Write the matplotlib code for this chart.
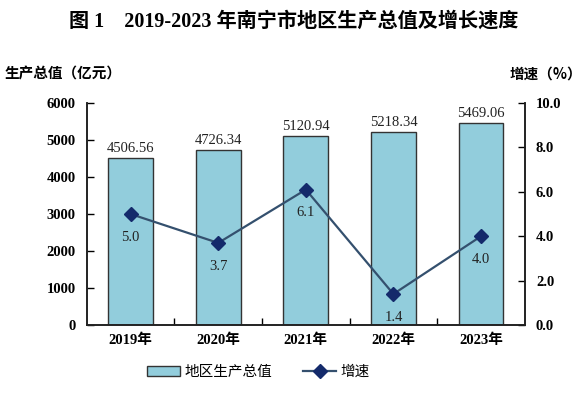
import matplotlib
matplotlib.use("Agg")
import matplotlib.pyplot as plt
from matplotlib.ticker import FixedLocator

# Data
years = ["2019年", "2020年", "2021年", "2022年", "2023年"]
gdp = [4506.56, 4726.34, 5120.94, 5218.34, 5469.06]
growth = [5.0, 3.7, 6.1, 1.4, 4.0]

num_font = ["Liberation Serif", "Noto Sans CJK SC"]
cjk_font = ["Noto Sans CJK SC", "DejaVu Sans"]

bar_color = "#92cddc"
line_color = "#34506e"
marker_color = "#142a6b"

fig = plt.figure(figsize=(5.87, 3.96), dpi=100)
ax = fig.add_axes([0.148, 0.179, 0.746, 0.561])
ax2 = ax.twinx()

x = list(range(len(years)))

# Bars
ax.bar(x, gdp, width=0.51, color=bar_color, edgecolor="#333333",
       linewidth=1.0, label="地区生产总值", zorder=2)
for xi, v in zip(x, gdp):
    ax.annotate(f"{v:.2f}", (xi, v), xytext=(0, 2), textcoords="offset points",
                ha="center", va="bottom", fontsize=10.5, family=num_font, color="#222222")

ax.set_xlim(-0.5, len(years) - 0.5)
ax.set_ylim(0, 6000)
ax.set_yticks(range(0, 6001, 1000))
ax.set_yticklabels([str(v) for v in range(0, 6001, 1000)], family=num_font,
                   fontsize=10.5, fontweight="bold")

# x ticks between categories, labels at centers
ax.set_xticks(x)
ax.set_xticklabels(years, family=num_font, fontsize=10.5, fontweight="bold")
ax.tick_params(axis="x", which="major", length=0, pad=6)
ax.xaxis.set_minor_locator(FixedLocator([0.5, 1.5, 2.5, 3.5]))
ax.tick_params(axis="x", which="minor", direction="in", length=5, width=1)
ax.tick_params(axis="y", direction="in", length=5, width=1, pad=8)

# Growth line
ax2.plot(x, growth, color=line_color, linewidth=1.6, marker="D", markersize=7,
         markerfacecolor=marker_color, markeredgecolor=marker_color, label="增速", zorder=3)
for xi, v in zip(x, growth):
    ax2.annotate(f"{v:.1f}", (xi, v), xytext=(0, -12), textcoords="offset points",
                 ha="center", va="top", fontsize=10.5, family=num_font, color="#222222")
ax2.set_ylim(0, 10)
ax2.set_yticks([0, 2, 4, 6, 8, 10])
ax2.set_yticklabels([f"{v:.1f}" for v in [0, 2, 4, 6, 8, 10]], family=num_font,
                    fontsize=10.5, fontweight="bold")
ax2.tick_params(axis="y", direction="in", length=5, width=1, pad=8)

for a in (ax, ax2):
    a.spines["top"].set_visible(False)
    for s in ("left", "right", "bottom"):
        a.spines[s].set_linewidth(1.2)
        a.spines[s].set_color("#222222")

# Titles
fig.text(0.5, 0.945, "图 1　2019-2023 年南宁市地区生产总值及增长速度",
         ha="center", va="center", fontsize=14.5, fontweight="bold",
         family=["Liberation Serif", "Noto Sans CJK SC"])
fig.text(0.008, 0.815, "生产总值（亿元）", ha="left", va="center", fontsize=10.5,
         fontweight="bold", family=cjk_font)
fig.text(0.992, 0.815, "增速（%）", ha="right", va="center", fontsize=10.5,
         fontweight="bold", family=cjk_font)

# Legend
h1, l1 = ax.get_legend_handles_labels()
h2, l2 = ax2.get_legend_handles_labels()
fig.legend(h1 + h2, l1 + l2, loc="center", bbox_to_anchor=(0.44, 0.06), ncol=2,
           frameon=False, prop={"family": cjk_font, "size": 10.5},
           handlelength=2.3, handleheight=0.7, columnspacing=2.1, handletextpad=0.3)

fig.savefig("out.png", dpi=100)
